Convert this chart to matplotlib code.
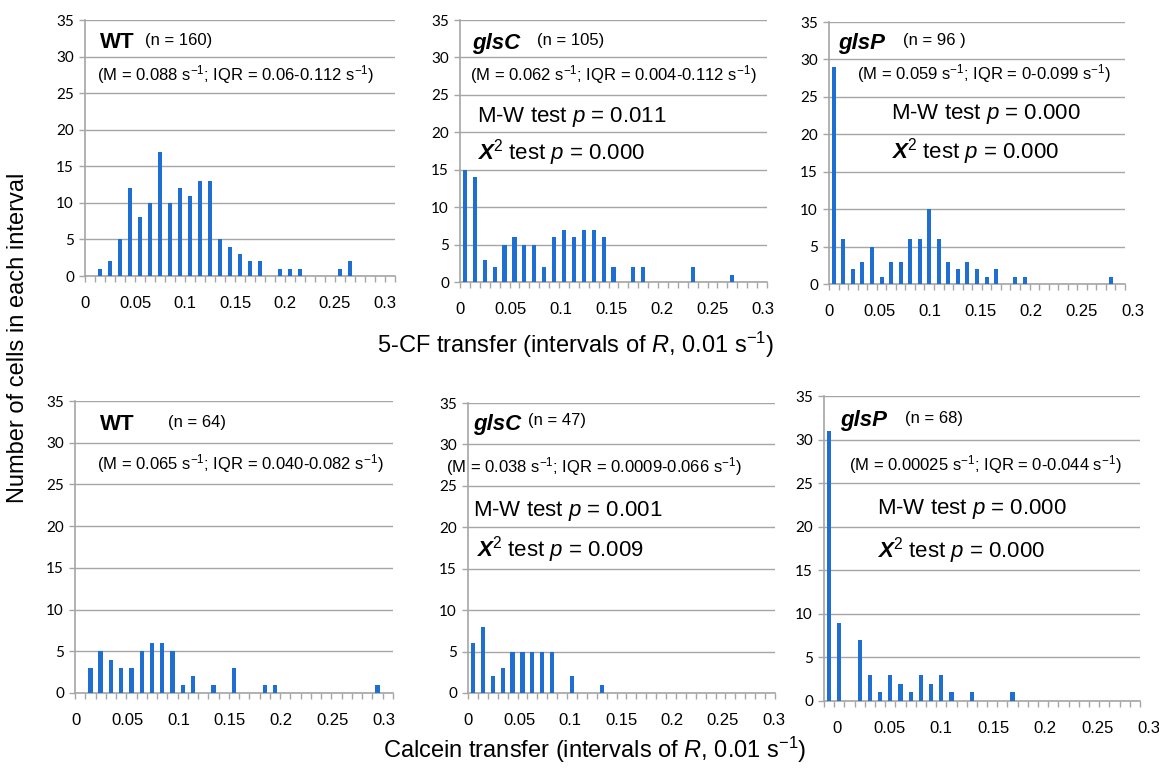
import numpy as np
from matplotlib import pyplot as plt

plt.rcParams["font.family"] = ["Liberation Sans", "DejaVu Sans"]
plt.rcParams["mathtext.fontset"] = "custom"
plt.rcParams["mathtext.rm"] = "Liberation Sans"
plt.rcParams["mathtext.it"] = "Liberation Sans:italic"
plt.rcParams["mathtext.bf"] = "Liberation Sans:bold"
plt.rcParams["mathtext.bfit"] = "Liberation Sans:bold:italic"

# cells per 0.01 s-1 interval of R (interval index 0..30)
bins = np.arange(31)
wt_cf = [0, 1, 2, 5, 12, 8, 10, 17, 10, 12, 11, 13, 13, 5, 4, 3, 2, 2, 0, 1,
         1, 1, 0, 0, 0, 1, 2, 0, 0, 0, 0]
glsc_cf = [15, 14, 3, 2, 5, 6, 5, 5, 2, 6, 7, 6, 7, 7, 6, 2, 0, 2, 2, 0,
           0, 0, 0, 2, 0, 0, 0, 1, 0, 0, 0]
glsp_cf = [29, 6, 2, 3, 5, 1, 3, 3, 6, 6, 10, 6, 3, 2, 3, 2, 1, 2, 0, 1,
           1, 0, 0, 0, 0, 0, 0, 0, 0, 1, 0]
wt_calc = [0, 3, 5, 4, 3, 3, 5, 6, 6, 5, 1, 2, 0, 1, 0, 3, 0, 0, 1, 1,
           0, 0, 0, 0, 0, 0, 0, 0, 0, 1, 0]
glsc_calc = [6, 8, 2, 3, 5, 5, 5, 5, 5, 0, 2, 0, 0, 1, 0, 0, 0, 0, 0, 0,
             0, 0, 0, 0, 0, 0, 0, 0, 0, 0, 0]
glsp_calc = [31, 9, 0, 7, 3, 1, 3, 2, 1, 3, 2, 3, 1, 0, 1, 0, 0, 0, 1, 0,
             0, 0, 0, 0, 0, 0, 0, 0, 0, 0, 0]

xtick_labels = ["0", "0.05", "0.1", "0.15", "0.2", "0.25", "0.3"]
yticks = [0, 5, 10, 15, 20, 25, 30, 35]

strains = ["WT", "glsC", "glsP", "WT", "glsC", "glsP"]
ns = ["(n = 160)", "(n = 105)", "(n = 96 )", "(n = 64)", "(n = 47)", "(n = 68)"]
medians = [
    r"(M = 0.088 s$^{-1}$; IQR = 0.06-0.112 s$^{-1}$)",
    r"(M = 0.062 s$^{-1}$; IQR = 0.004-0.112 s$^{-1}$)",
    r"(M = 0.059 s$^{-1}$; IQR = 0-0.099 s$^{-1}$)",
    r"(M = 0.065 s$^{-1}$; IQR = 0.040-0.082 s$^{-1}$)",
    r"(M = 0.038 s$^{-1}$; IQR = 0.0009-0.066 s$^{-1}$)",
    r"(M = 0.00025 s$^{-1}$; IQR = 0-0.044 s$^{-1}$)",
]
mw_p = [None, "0.011", "0.000", None, "0.001", "0.000"]
chi_p = [None, "0.000", "0.000", None, "0.009", "0.000"]
counts = [wt_cf, glsc_cf, glsp_cf, wt_calc, glsc_calc, glsp_calc]

W, H = 1159, 771
fig = plt.figure(figsize=(W / 100, H / 100), dpi=100)

# axes boxes in pixels: left, right, top, bottom
boxes = [(85, 395, 20, 276), (460, 767, 20, 282), (829, 1125, 22, 284),
         (75, 393, 401, 693), (468, 775, 403, 693), (824, 1140, 396, 701)]
# where the x labels sit (start, step) in interval units
label_pos = [(0, 5), (0, 5.1), (0, 5.3), (0.1, 5), (0, 5.15), (1.3, 5.1)]
# text anchors in pixels (x, y): strain, n, median, M-W, chi2
txt_pos = [
    [(100, 42), (145, 40), (97, 75), None, None],
    [(472, 43), (537, 41), (470, 75), (477, 117), (477, 153)],
    [(838, 43), (903, 41), (857, 74), (891, 114), (891, 152)],
    [(100, 424), (168, 422), (97, 464), None, None],
    [(473, 424), (528, 421), (446, 467), (473, 511), (476, 550)],
    [(840, 421), (905, 419), (849, 465), (877, 509), (877, 551)],
]

grey = "#a6a6a6"
barcol = "#1f6fd2"


def fx(x):
    return x / W


def fy(y):
    return 1 - y / H


for k in range(6):
    l, r, t, b = boxes[k]
    ax = fig.add_axes([fx(l), fy(b), (r - l) / W, (b - t) / H])
    ax.bar(bins + 0.5, counts[k], width=0.42, color=barcol, zorder=3)
    ax.set_xlim(0, 31)
    ax.set_ylim(0, 35)
    ax.set_yticks(yticks)
    ax.set_yticklabels([str(v) for v in yticks], family=["Lato", "DejaVu Sans"],
                       fontsize=11)
    ax.set_xticks([])
    ax.set_xticks(np.arange(32), minor=True)
    ax.tick_params(axis="x", which="minor", length=4, color=grey, width=1)
    ax.tick_params(axis="y", length=4, color=grey, width=1, pad=4)
    ax.grid(axis="y", color=grey, linewidth=1, zorder=0)
    for s in ["top", "right"]:
        ax.spines[s].set_visible(False)
    for s in ["left", "bottom"]:
        ax.spines[s].set_color(grey)
        ax.spines[s].set_linewidth(1.2)
    st, step = label_pos[k]
    for j, lab in enumerate(xtick_labels):
        ax.annotate(lab, (st + j * step, 0), xycoords=("data", "axes fraction"),
                    xytext=(0, -19.5), textcoords="offset points",
                    ha="center", va="center", fontsize=12, annotation_clip=False)

    p = txt_pos[k]
    style = "normal" if strains[k] == "WT" else "italic"
    fig.text(fx(p[0][0]), fy(p[0][1]), strains[k], fontsize=16,
             fontweight="bold", style=style, va="center")
    fig.text(fx(p[1][0]), fy(p[1][1]), ns[k], fontsize=12, va="center")
    fig.text(fx(p[2][0]), fy(p[2][1]), medians[k], fontsize=12, va="center")
    if mw_p[k] is not None:
        fig.text(fx(p[3][0]), fy(p[3][1]), "M-W test $p$ = " + mw_p[k],
                 fontsize=16, va="center")
        fig.text(fx(p[4][0]), fy(p[4][1]),
                 r"$\mathbfit{X}^{\mathrm{2}}$ test $p$ = " + chi_p[k],
                 fontsize=16, va="center")

fig.text(fx(18), fy(338), "Number of cells in each interval", rotation=90,
         ha="center", va="center", fontsize=17)
fig.text(fx(576), fy(345), r"5-CF transfer (intervals of $R$, 0.01 s$^{-1}$)",
         ha="center", va="center", fontsize=17)
fig.text(fx(595), fy(750), r"Calcein transfer (intervals of $R$, 0.01 s$^{-1}$)",
         ha="center", va="center", fontsize=17)

fig.savefig("out.png", dpi=100)
